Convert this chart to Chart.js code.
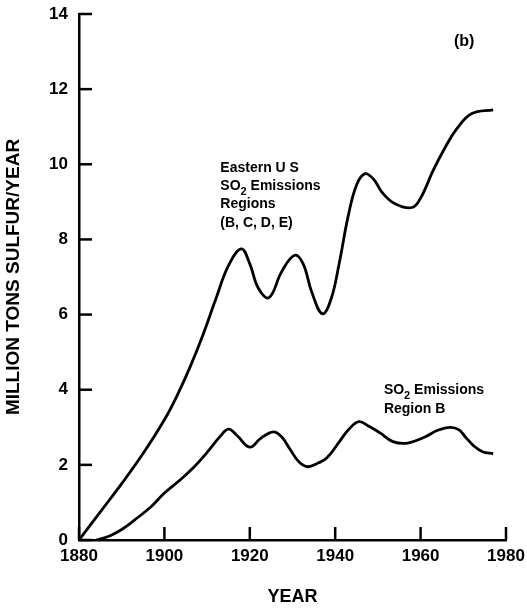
<!DOCTYPE html>
<html><head><meta charset="utf-8">
<script src="https://cdn.jsdelivr.net/npm/chart.js@4"></script>
<style>html,body{margin:0;padding:0;background:#fff}#wrap{width:527px;height:609px}</style>
</head><body><div id="wrap"><canvas id="c" width="527" height="609"></canvas></div>
<script>
// Eastern U S SO2 emission regions (B, C, D, E)
const eastYears  = [1880,1885,1890,1895,1900,1903,1906,1909,1912,1915,1918,1920,1922,1924.5,1927.5,1930.5,1932.5,1934.5,1937,1939,1941,1943,1945,1947,1949,1951,1954,1958,1960,1963,1966,1968.5,1972,1977];
const eastValues = [0,0.75,1.5,2.3,3.2,3.85,4.6,5.45,6.4,7.3,7.75,7.35,6.7,6.45,7.15,7.58,7.35,6.6,6.02,6.4,7.4,8.6,9.45,9.75,9.6,9.25,8.95,8.85,9.1,9.85,10.5,10.95,11.35,11.45];
// SO2 emissions, region B
const regionBYears  = [1884,1887,1890,1893,1897,1900,1904,1907,1910,1913,1915,1917,1920,1922.5,1925.5,1927.5,1929.5,1931.5,1933.5,1936,1938,1941,1943,1945.5,1948,1950.5,1953.5,1957,1961,1964,1967,1969,1970.5,1972.5,1974.5,1977];
const regionBValues = [0,0.1,0.28,0.53,0.9,1.25,1.63,1.95,2.33,2.75,2.95,2.78,2.47,2.7,2.88,2.74,2.4,2.08,1.95,2.05,2.18,2.62,2.92,3.15,3.02,2.85,2.62,2.58,2.74,2.92,3.0,2.93,2.74,2.5,2.35,2.3];
// axes
const xTickValues = [1880,1900,1920,1940,1960,1980];
const yTickValues = [0,2,4,6,8,10,12,14];

const toPts = (xs, ys) => xs.map((v, i) => ({x: v, y: ys[i]}));
const FONT = "'Liberation Sans', Arial, sans-serif";

const innerTicks = {
  id: 'innerTicks',
  afterDatasetsDraw(chart) {
    const {ctx, chartArea: a, scales: {x, y}} = chart;
    ctx.save();
    ctx.strokeStyle = '#000'; ctx.lineWidth = 2.5;
    y.ticks.forEach(t => {
      const py = y.getPixelForValue(t.value);
      ctx.beginPath(); ctx.moveTo(a.left, py); ctx.lineTo(a.left + 13, py); ctx.stroke();
    });
    x.ticks.forEach(t => {
      const px = x.getPixelForValue(t.value);
      ctx.beginPath(); ctx.moveTo(px, a.bottom); ctx.lineTo(px, a.bottom - 13); ctx.stroke();
    });
    ctx.restore();
  }
};

function drawRuns(ctx, x0, y0, runs) {
  let x = x0;
  runs.forEach(r => {
    ctx.font = r.sub ? `bold 11px ${FONT}` : `bold 14px ${FONT}`;
    ctx.fillText(r.t, x, y0 + (r.sub ? 5 : 0));
    x += ctx.measureText(r.t).width;
  });
}

const annotations = {
  id: 'annotations',
  afterDraw(chart) {
    const {ctx, scales: {x, y}} = chart;
    ctx.save();
    ctx.fillStyle = '#000'; ctx.textAlign = 'left'; ctx.textBaseline = 'alphabetic';
    // Eastern US label
    let lx = x.getPixelForValue(1913.1), ly = y.getPixelForValue(9.8);
    const eastLines = [
      [{t: 'Eastern U S'}],
      [{t: 'SO'}, {t: '2', sub: true}, {t: ' Emissions'}],
      [{t: 'Regions'}],
      [{t: '(B, C, D, E)'}]
    ];
    eastLines.forEach((ln, i) => drawRuns(ctx, lx, ly + i * 18.3, ln));
    // Region B label
    lx = x.getPixelForValue(1951.4); ly = y.getPixelForValue(3.89);
    const bLines = [
      [{t: 'SO'}, {t: '2', sub: true}, {t: ' Emissions'}],
      [{t: 'Region B'}]
    ];
    bLines.forEach((ln, i) => drawRuns(ctx, lx, ly + i * 19, ln));
    // panel tag
    ctx.font = `bold 16px ${FONT}`; ctx.textAlign = 'center';
    ctx.fillText('(b)', x.getPixelForValue(1970.2), y.getPixelForValue(13.15));
    ctx.restore();
  }
};

new Chart(document.getElementById('c'), {
  type: 'line',
  data: {
    datasets: [
      {label: 'Eastern U S SO2 Emissions Regions (B, C, D, E)', data: toPts(eastYears, eastValues)},
      {label: 'SO2 Emissions Region B', data: toPts(regionBYears, regionBValues)}
    ]
  },
  options: {
    responsive: false,
    animation: false,
    devicePixelRatio: 1,
    layout: {autoPadding: false, padding: {left: 0, right: 21, top: 14, bottom: 0}},
    elements: {
      line: {borderColor: '#000', borderWidth: 2.8, tension: 0.4, fill: false},
      point: {radius: 0, hoverRadius: 0}
    },
    plugins: {legend: {display: false}, tooltip: {enabled: false}},
    scales: {
      x: {
        type: 'linear', min: 1880, max: 1980,
        afterBuildTicks: s => { s.ticks = xTickValues.map(v => ({value: v})); },
        afterFit: s => { s.height = 69; s.paddingLeft = 0; s.paddingRight = 0; },
        grid: {display: false, drawTicks: false},
        border: {display: true, color: '#000', width: 2.5},
        ticks: {color: '#000', font: {family: FONT, size: 17, weight: 'bold'}, padding: 6, maxRotation: 0, callback: v => String(v)},
        title: {display: true, text: 'YEAR', color: '#000', font: {family: FONT, size: 18, weight: 'bold'}, padding: {top: 0, bottom: 1}}
      },
      y: {
        type: 'linear', min: 0, max: 14,
        afterBuildTicks: s => { s.ticks = yTickValues.map(v => ({value: v})); },
        afterFit: s => { s.width = 79; s.paddingTop = 0; s.paddingBottom = 0; },
        grid: {display: false, drawTicks: false},
        border: {display: true, color: '#000', width: 2.5},
        ticks: {color: '#000', font: {family: FONT, size: 17, weight: 'bold'}, padding: 11, callback: v => String(v)},
        title: {display: true, text: 'MILLION TONS SULFUR/YEAR', color: '#000', font: {family: FONT, size: 19, weight: 'bold'}, padding: {top: 2, bottom: 0}}
      }
    }
  },
  plugins: [innerTicks, annotations]
});
</script>
</body></html>
